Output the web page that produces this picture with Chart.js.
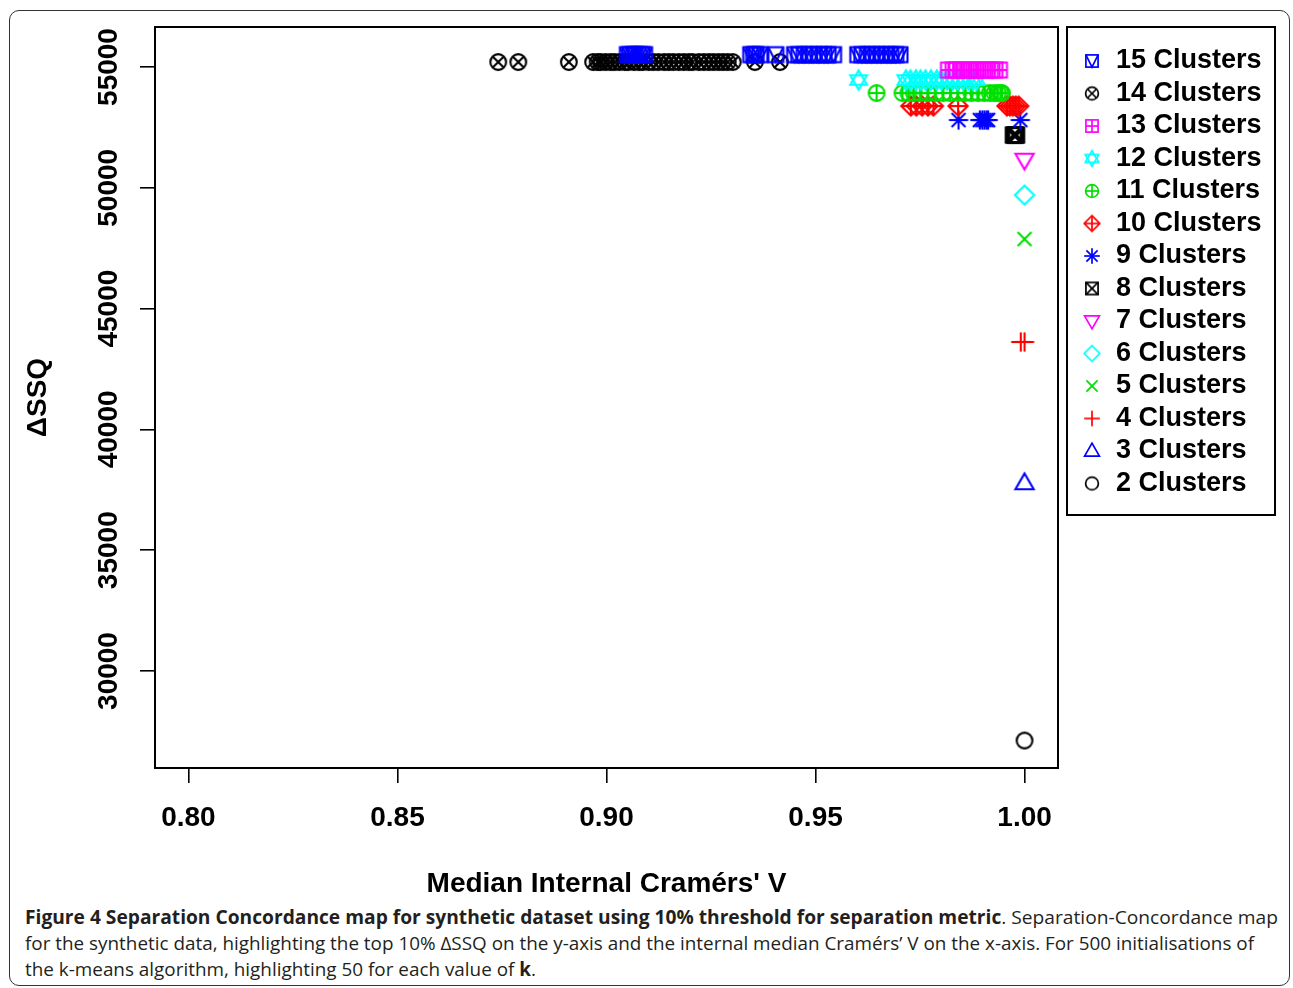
<!DOCTYPE html>
<html><head><meta charset="utf-8">
<script src="https://cdn.jsdelivr.net/npm/chart.js@4.4.1/dist/chart.umd.min.js"></script>
<style>
html,body{margin:0;padding:0;background:#fff;width:1293px;height:988px;overflow:hidden;}
#frame{position:absolute;left:9px;top:10px;width:1281px;height:976px;border:1.6px solid #333;border-radius:10px;box-sizing:border-box;}
#chartWrap{position:absolute;left:0;top:0;width:1293px;height:900px;}
.cap{position:absolute;left:25px;white-space:nowrap;font-family:'Open Sans',sans-serif;font-size:19px;line-height:24px;color:#231f20;transform-origin:0 50%;}
.cap b{font-weight:700;}
</style></head><body>
<div id="frame"></div>
<div id="chartWrap"><canvas id="c" width="1293" height="900" style="width:1293px;height:900px"></canvas></div>
<div class="cap" id="l1" style="top:905px"><b>Figure 4 Separation Concordance map for synthetic dataset using 10% threshold for separation metric</b>. Separation-Concordance map</div>
<div class="cap" id="l2" style="top:931px">for the synthetic data, highlighting the top 10% ΔSSQ on the y-axis and the internal median Cramérs’ V on the x-axis. For 500 initialisations of</div>
<div class="cap" id="l3" style="top:957px">the k-means algorithm, highlighting 50 for each value of <b>k</b>.</div>
<script>
// ---- data ----
const xTicks = [0.80, 0.85, 0.90, 0.95, 1.00];
const yTicks = [30000, 35000, 40000, 45000, 50000, 55000];
const xLimits = [0.792, 1.008];
const yLimits = [25985, 56656];

const clusterLabels = ['15 Clusters','14 Clusters','13 Clusters','12 Clusters','11 Clusters','10 Clusters','9 Clusters','8 Clusters','7 Clusters','6 Clusters','5 Clusters','4 Clusters','3 Clusters','2 Clusters'];
const clusterColors = ['#0000FF','#000000','#FF00FF','#00FFFF','#00E000','#FF0000','#0000FF','#000000','#FF00FF','#00FFFF','#00E000','#FF0000','#0000FF','#000000'];
const clusterSymbols = ['squareTri','circleX','squarePlus','starDavid','circlePlus','diamondPlus','asterisk','squareX','triDown','diamond','cross','plus','triUp','circle'];
const deltaSSQ = [55510, 55207, 54876, 54462, 53924, 53386, 52806, 52185, 51151, 49702, 47881, 43618, 37782, 27121];

const k15x = [0.9050,0.9056,0.9064,0.9069,0.9077,0.9085,0.9091, 0.9345,0.9352,0.9358,0.9367, 0.9405, 0.9450,0.9460,0.9473,0.9485,0.9495,0.9508,0.9520,0.9530,0.9543, 0.9601,0.9611,0.9624,0.9634,0.9647,0.9657,0.9670,0.9680,0.9692,0.9702];
const k14x = [0.8741,0.8789,0.8910,0.8968,0.8979,0.8986,0.8998,0.9010,0.9019,0.9031,0.9044,0.9052,0.9066,0.9078,0.9087,0.9101,0.9112,0.9124,0.9138,0.9149,0.9160,0.9173,0.9185,0.9197,0.9206,0.9221,0.9233,0.9245,0.9256,0.9268,0.9279,0.9290,0.9302,0.9355,0.9415];
const k13x = [0.9818,0.9829,0.9838,0.9850,0.9861,0.9872,0.9884,0.9895,0.9906,0.9918,0.9929,0.9940];
const k12x = [0.9603,0.9716,0.9727,0.9740,0.9751,0.9763,0.9776,0.9790,0.9801,0.9815,0.9828,0.9840,0.9853,0.9866,0.9877,0.9885];
const k11x = [0.9646,0.9708,0.9722,0.9735,0.9751,0.9768,0.9787,0.9805,0.9822,0.9841,0.9858,0.9873,0.9889,0.9904,0.9917,0.9928,0.9936,0.9942,0.9946];
const k10x = [0.9728,0.9741,0.9755,0.9769,0.9782,0.9841,0.9958,0.9965,0.9972,0.9979,0.9986];
const k9x  = [0.9842,0.9893,0.9899,0.9904,0.9909,0.9913,0.9990];
const k8x  = [0.9973,0.9975,0.9977,0.9979,0.9981];
const k7x  = [1.0000];
const k6x  = [1.0000];
const k5x  = [1.0000];
const k4x  = [0.9991,1.0000];
const k3x  = [1.0000];
const k2x  = [1.0000];
const medianV = [k15x,k14x,k13x,k12x,k11x,k10x,k9x,k8x,k7x,k6x,k5x,k4x,k3x,k2x];

// ---- symbols (R pch-like) ----
function makeSymbol(kind, color, r, lw) {
  const pad = Math.ceil(lw) + 1;
  const size = Math.ceil(2 * r + 2 * pad);
  const cv = document.createElement('canvas');
  cv.width = size; cv.height = size;
  const g = cv.getContext('2d');
  g.strokeStyle = color; g.lineWidth = lw; g.lineJoin = 'miter';
  g.translate(size / 2, size / 2);
  const q = r * 0.78, cr = r * 0.82, d = r * 0.72;
  const path = (pts, close = true) => { g.beginPath(); pts.forEach((p, i) => i ? g.lineTo(p[0], p[1]) : g.moveTo(p[0], p[1])); if (close) g.closePath(); g.stroke(); };
  const line = (x1, y1, x2, y2) => { g.beginPath(); g.moveTo(x1, y1); g.lineTo(x2, y2); g.stroke(); };
  const circle = () => { g.beginPath(); g.arc(0, 0, cr, 0, Math.PI * 2); g.stroke(); };
  const square = () => g.strokeRect(-q, -q, 2 * q, 2 * q);
  const diamond = () => path([[0, -r], [r, 0], [0, r], [-r, 0]]);
  switch (kind) {
    case 'circle': circle(); break;
    case 'triUp': path([[0, -r], [r * 0.95, r * 0.65], [-r * 0.95, r * 0.65]]); break;
    case 'plus': line(-r, 0, r, 0); line(0, -r, 0, r); break;
    case 'cross': line(-d, -d, d, d); line(-d, d, d, -d); break;
    case 'diamond': diamond(); break;
    case 'triDown': path([[0, r], [r * 0.95, -r * 0.65], [-r * 0.95, -r * 0.65]]); break;
    case 'squareX': square(); line(-q, -q, q, q); line(-q, q, q, -q); break;
    case 'asterisk': line(-r, 0, r, 0); line(0, -r, 0, r); line(-d, -d, d, d); line(-d, d, d, -d); break;
    case 'diamondPlus': diamond(); line(-r, 0, r, 0); line(0, -r, 0, r); break;
    case 'circlePlus': circle(); line(-cr, 0, cr, 0); line(0, -cr, 0, cr); break;
    case 'starDavid':
      path([[0, -r], [r * 0.87, r * 0.5], [-r * 0.87, r * 0.5]]);
      path([[0, r], [r * 0.87, -r * 0.5], [-r * 0.87, -r * 0.5]]); break;
    case 'squarePlus': square(); line(-q, 0, q, 0); line(0, -q, 0, q); break;
    case 'circleX': { circle(); const e = cr * 0.7071; line(-e, -e, e, e); line(-e, e, e, -e); break; }
    case 'squareTri': square(); path([[-q, -q], [0, q], [q, -q]], false); break;
  }
  return cv;
}
const plotSymbols = clusterSymbols.map((s, i) => makeSymbol(s, clusterColors[i], 9.6, 2.1));
const legendSymbols = clusterSymbols.map((s, i) => makeSymbol(s, clusterColors[i], 7.8, 1.7));

// ---- fonts / legend sizing ----
const FAMILY = '"Liberation Sans", Arial, Helvetica, sans-serif';
Chart.defaults.font.family = FAMILY;
const LEG_FONT = 27, LEG_PAD = 5.5, LEG_BOX = 21;
const mctx = document.createElement('canvas').getContext('2d');
mctx.font = 'bold ' + LEG_FONT + 'px ' + FAMILY;
const maxText = Math.max(...clusterLabels.map(t => mctx.measureText(t).width));
const legendW = LEG_PAD + (LEG_BOX + LEG_FONT / 2 + maxText) + 10;
const padR = Math.max(0, 1293 - 1076 - legendW);

const boxPlugin = {
  id: 'rBoxes',
  afterDraw(chart) {
    const {ctx, chartArea: a, scales, legend} = chart;
    ctx.save();
    ctx.strokeStyle = '#000'; ctx.lineWidth = 2;
    ctx.strokeRect(a.left, a.top, a.right - a.left, a.bottom - a.top);
    const hb = legend.legendHitBoxes;
    const last = hb[hb.length - 1];
    const lx = a.right + 9;
    ctx.strokeRect(lx, a.top, 208, last.top + last.height + 18 - a.top);
    const ys = scales.y;
    ctx.fillStyle = '#000';
    ctx.font = 'bold 28px ' + FAMILY;
    ctx.textAlign = 'center'; ctx.textBaseline = 'alphabetic';
    ys.ticks.forEach(t => {
      const p = ys.getPixelForValue(t.value);
      ctx.save(); ctx.translate(ys.right - 38, p); ctx.rotate(-Math.PI / 2);
      ctx.fillText(String(t.value), 0, 0); ctx.restore();
    });
    ctx.restore();
  }
};

const gridOpts = {display: true, drawOnChartArea: false, drawTicks: true, tickLength: 15, color: '#000', lineWidth: 1.6};

new Chart(document.getElementById('c'), {
  type: 'scatter',
  data: {
    datasets: clusterLabels.map((lab, i) => ({
      label: lab,
      data: medianV[i].map(x => ({x: x, y: deltaSSQ[i]})),
      pointStyle: plotSymbols[i],
      pointRadius: 9, pointHoverRadius: 9,
      borderColor: clusterColors[i], backgroundColor: clusterColors[i]
    }))
  },
  options: {
    responsive: false, animation: false, events: [],
    layout: {padding: {top: 27, left: 0, right: padR, bottom: 0}},
    scales: {
      x: {
        type: 'linear', position: 'bottom', min: xLimits[0], max: xLimits[1],
        afterBuildTicks: s => { s.ticks = xTicks.map(v => ({value: v})); },
        afterFit: s => { s.height = 132; },
        ticks: {callback: v => Number(v).toFixed(2), font: {size: 28, weight: 'bold'}, color: '#000', padding: 18, maxRotation: 0, autoSkip: false},
        grid: gridOpts, border: {display: false},
        title: {display: true, text: "Median Internal Cramérs' V", font: {size: 28, weight: 'bold'}, color: '#000', padding: {top: 0, bottom: -1}}
      },
      y: {
        type: 'linear', position: 'left', min: yLimits[0], max: yLimits[1],
        afterBuildTicks: s => { s.ticks = yTicks.map(v => ({value: v})); },
        afterFit: s => { s.width = 155; },
        ticks: {display: false},
        grid: gridOpts, border: {display: false},
        title: {display: true, text: 'ΔSSQ', font: {size: 28, weight: 'bold'}, color: '#000', padding: {top: 21, bottom: 0}}
      },
      y2: {
        type: 'linear', position: 'right', display: true,
        grid: {display: false}, ticks: {display: false}, border: {display: false},
        afterFit: s => { s.width = 18; }
      }
    },
    plugins: {
      tooltip: {enabled: false},
      legend: {
        position: 'right', align: 'start',
        title: {display: true, text: '', font: {size: 10, lineHeight: 1}, padding: {top: 5, bottom: 0}},
        labels: {
          usePointStyle: true, boxWidth: LEG_BOX, padding: LEG_PAD, color: '#000',
          font: {size: LEG_FONT, weight: 'bold'},
          generateLabels: chart => Chart.defaults.plugins.legend.labels.generateLabels(chart)
            .map(it => Object.assign(it, {pointStyle: legendSymbols[it.datasetIndex], fontColor: '#000'}))
        }
      }
    }
  },
  plugins: [boxPlugin]
});

function fitLine(id, target) {
  const el = document.getElementById(id);
  el.style.transform = 'none';
  const w = el.getBoundingClientRect().width;
  el.style.transform = 'scaleX(' + (target / w) + ')';
}
function fitAll() { fitLine('l1', 1253); fitLine('l2', 1229); fitLine('l3', 511); }
fitAll();
if (document.fonts && document.fonts.ready) document.fonts.ready.then(fitAll);
</script>
</body></html>
